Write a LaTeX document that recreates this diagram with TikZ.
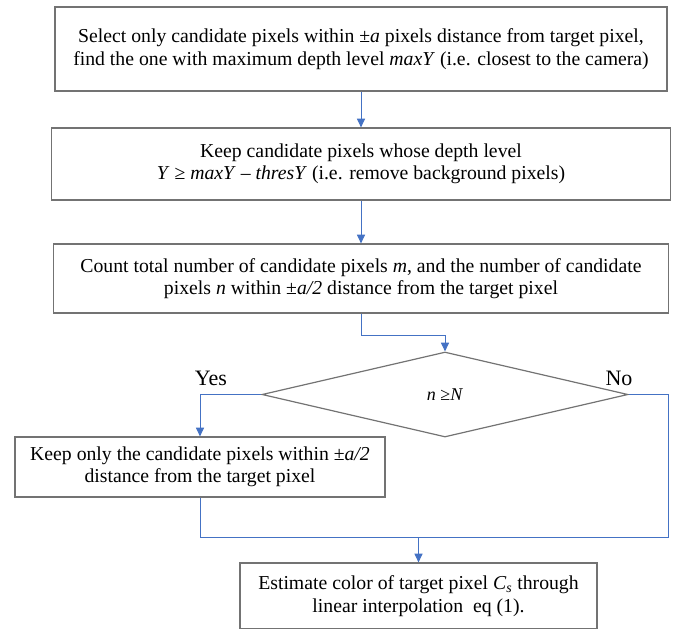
\documentclass[tikz,border=0pt]{standalone}
\usepackage{fontspec}
\setmainfont{Liberation Serif}
\usetikzlibrary{shapes.geometric,arrows.meta}
\definecolor{flowblue}{RGB}{68,114,196}
\begin{document}
\begin{tikzpicture}
[x=0.75pt, y=-0.75pt,
 font=\fontsize{14.8}{16.8}\selectfont,
 box/.style={draw=black!55, line width=0.9pt, align=center, inner sep=0pt},
 test/.style={draw=black!55, line width=0.9pt, shape=diamond, inner sep=0pt,
   minimum width=274.5pt, minimum height=63.75pt},
 answer/.style={font=\fontsize{16.5}{18}\selectfont},
 link/.style={draw=flowblue, line width=0.7pt},
 tip/.style={-{Triangle[length=6.5pt,width=6pt]}}]
%[scale=0.75, every node/.style={draw}]
  \useasboundingbox (0,0) rectangle (677,628);
  \clip (0,0) rectangle (677,628);
  \node [box, minimum width=459pt, minimum height=63pt] (n1) at (361,49)
    {Select only candidate pixels within ±\textit{a} pixels distance from target pixel,\\
     find the one with maximum depth level \textit{maxY} (i.e. closest to the camera)};
  \node [box, minimum width=464.25pt, minimum height=54pt] (n2) at (361,164)
    {Keep candidate pixels whose depth level\\
     \textit{Y} ≥ \textit{maxY} – \textit{thresY} (i.e. remove background pixels)};
  \node [box, minimum width=461.25pt, minimum height=51.75pt] (n3) at (361,278.5)
    {Count total number of candidate pixels \textit{m}, and the number of candidate\\
     pixels \textit{n} within ±\textit{a/2} distance from the target pixel};
  \node [test] (n4) at (445,394.5) {\fontsize{13.5}{15}\selectfont\textit{n} ≥\textit{N}};
  \node [box, minimum width=277.5pt, minimum height=45pt] (n5) at (200,467)
    {Keep only the candidate pixels within ±\textit{a/2}\\
     distance from the target pixel};
  \node [box, minimum width=267.75pt, minimum height=49.5pt] (n6) at (418.5,596)
    {Estimate color of target pixel \textit{C}\textsubscript{\textit{s}} through\\
     linear interpolation~ eq (1).};
  \node [answer] (yes) at (211,378) {Yes};
  \node [answer] (no) at (619,378) {No};
  \coordinate (j) at (418.5,537);
  \coordinate (r) at (668,537);
  \foreach \from/\to in {n1/n2,n2/n3}
  \draw [link, tip] (\from) -- (\to);
  \draw [link, tip] (n3.south) -- ++(0,22) -| (n4.north);
  \draw [link, tip] (n4.west) -| (n5.north);
  \draw [link] (n4.east) -| (r) -- (j);
  \draw [link] (n5.south) |- (j);
  \draw [link, tip] (j) -- (n6.north);
\end{tikzpicture}
\end{document}
